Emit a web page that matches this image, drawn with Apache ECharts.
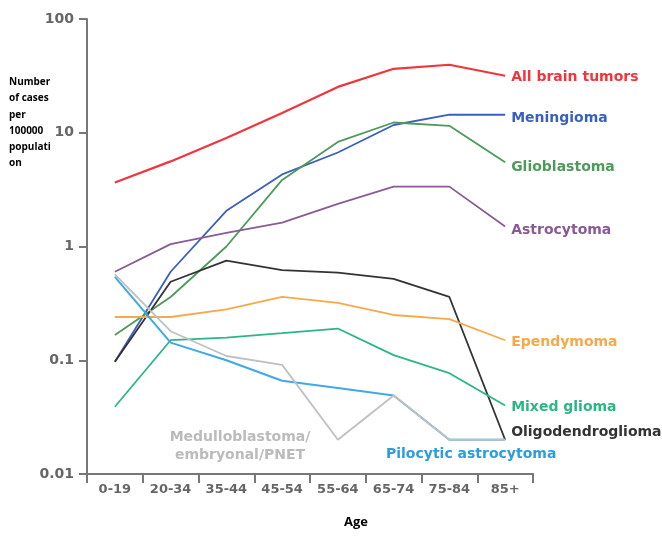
<!DOCTYPE html>
<html>
<head>
<meta charset="utf-8">
<script src="https://cdn.jsdelivr.net/npm/echarts@6/dist/echarts.min.js"></script>
<style>
  html, body { margin: 0; padding: 0; background: #fff; }
  #chart { width: 662px; height: 536px; }
</style>
</head>
<body>
<div id="chart"></div>
<script>
// age groups
const ages = ['0-19', '20-34', '35-44', '45-54', '55-64', '65-74', '75-84', '85+'];

// cases per 100000
const allTumors     = [3.65, 5.6, 9.0, 14.9, 25.3, 36.5, 39.6, 31.7];
const meningioma    = [0.097, 0.6, 2.06, 4.3, 6.7, 11.7, 14.4, 14.4];
const glioblastoma  = [0.167, 0.36, 1.0, 3.85, 8.3, 12.3, 11.5, 5.5];
const astrocytoma   = [0.6, 1.05, 1.32, 1.62, 2.37, 3.36, 3.36, 1.5];
const oligo         = [0.097, 0.49, 0.75, 0.62, 0.59, 0.52, 0.36, 0.02];
const ependymoma    = [0.24, 0.24, 0.28, 0.36, 0.32, 0.25, 0.23, 0.15];
const mixedGlioma   = [0.039, 0.15, 0.158, 0.173, 0.19, 0.111, 0.077, 0.04];
const pilocytic     = [0.54, 0.143, 0.1, 0.066, 0.057, 0.049, 0.02, 0.02];
const medullo       = [0.57, 0.18, 0.109, 0.091, 0.02, 0.049, 0.02, 0.02];

const yTicks = [0.01, 0.1, 1, 10, 100];

const chart = echarts.init(document.getElementById('chart'));

const labelFont = '"DejaVu Sans", Verdana, sans-serif';

function line(name, data, color, width, label, offset) {
  return {
    name: name,
    type: 'line',
    data: data,
    symbol: 'none',
    animation: false,
    lineStyle: { color: color, width: width },
    endLabel: label ? {
      show: true,
      formatter: label,
      color: color,
      fontFamily: labelFont,
      fontWeight: 'bold',
      fontSize: 14,
      distance: 6,
      offset: offset || [0, 0]
    } : { show: false }
  };
}

const option = {
  backgroundColor: '#fff',
  grid: { left: 87, right: 129, top: 19, bottom: 62 },
  xAxis: {
    type: 'category',
    data: ages,
    boundaryGap: true,
    axisLine: { lineStyle: { color: '#777', width: 2 } },
    axisTick: { show: true, length: 9, lineStyle: { color: '#777', width: 2 } },
    axisLabel: {
      color: '#666',
      fontFamily: labelFont,
      fontWeight: 'bold',
      fontSize: 13,
      margin: 9
    },
    splitLine: { show: false }
  },
  yAxis: {
    type: 'log',
    logBase: 10,
    min: yTicks[0],
    max: yTicks[yTicks.length - 1],
    axisLine: { show: true, lineStyle: { color: '#777', width: 2 } },
    axisTick: { show: true, length: 8, lineStyle: { color: '#777', width: 2 } },
    axisLabel: {
      color: '#666',
      fontFamily: labelFont,
      fontWeight: 'bold',
      fontSize: 14,
      margin: 13,
      formatter: function (v) { return String(v); }
    },
    splitLine: { show: false }
  },
  graphic: [
    {
      type: 'text',
      left: 9,
      top: 74,
      style: {
        text: 'Number\nof cases\nper\n100000\npopulati\non',
        fill: '#000',
        font: 'bold 10px "Open Sans", sans-serif',
        lineHeight: 16.3
      }
    },
    {
      type: 'text',
      x: 356,
      y: 516,
      style: {
        text: 'Age',
        fill: '#000',
        font: 'bold 13px "Open Sans", sans-serif',
        align: 'center'
      }
    },
    {
      type: 'text',
      x: 240,
      y: 428,
      style: {
        text: 'Medulloblastoma/\nembryonal/PNET',
        fill: '#bbb',
        font: 'bold 14px "DejaVu Sans", Verdana, sans-serif',
        align: 'center',
        lineHeight: 18
      }
    },
    {
      type: 'text',
      x: 386,
      y: 447,
      style: {
        text: 'Pilocytic astrocytoma',
        fill: '#2b9de0',
        font: 'bold 14px "DejaVu Sans", Verdana, sans-serif'
      }
    }
  ],
  series: [
    line('All brain tumors', allTumors, '#f0353d', 2.2, 'All brain tumors', [0, 2]),
    line('Meningioma', meningioma, '#3a5fc0', 1.8, 'Meningioma', [0, 4]),
    line('Glioblastoma', glioblastoma, '#4e9a5a', 1.8, 'Glioblastoma', [0, 5]),
    line('Astrocytoma', astrocytoma, '#8a5a94', 1.8, 'Astrocytoma', [0, 4]),
    line('Oligodendroglioma', oligo, '#333333', 1.8, 'Oligodendroglioma', [0, -7]),
    line('Ependymoma', ependymoma, '#f5a94a', 1.8, 'Ependymoma', [0, 2]),
    line('Mixed glioma', mixedGlioma, '#2bb784', 1.8, 'Mixed glioma', [0, 2]),
    line('Pilocytic astrocytoma', pilocytic, '#3fa9e8', 2, null),
    line('Medulloblastoma/embryonal/PNET', medullo, '#c0c0c0', 1.8, null)
  ]
};

chart.setOption(option);
</script>
</body>
</html>
